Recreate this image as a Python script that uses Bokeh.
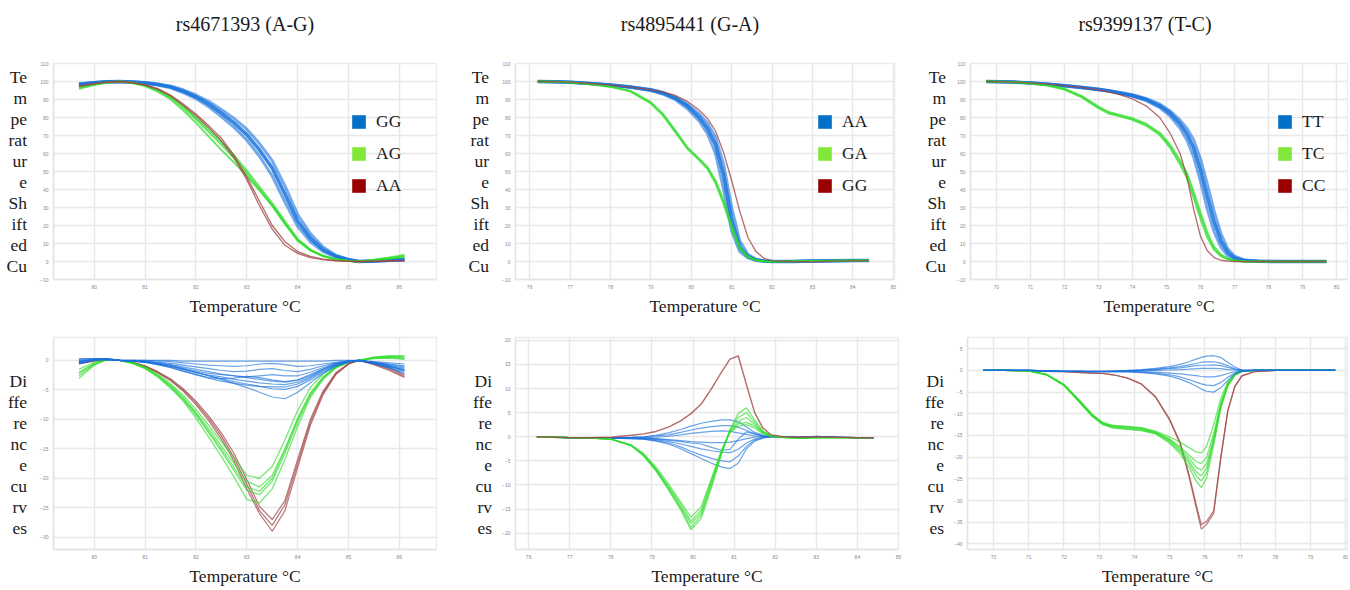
from bokeh.plotting import figure
from bokeh.layouts import column, row
from bokeh.models import Range1d, SingleIntervalTicker, Legend, LegendItem, Div
from bokeh.embed import file_html
from bokeh.resources import INLINE

# ---------------- data ----------------
TITLES = ["rs4671393 (A-G)", "rs4895441 (G-A)", "rs9399137 (T-C)"]
LEGEND_LABELS = [["GG", "AG", "AA"], ["AA", "GA", "GG"], ["TT", "TC", "CC"]]
XLABEL = "Temperature °C"
YLABEL_TOP = ["Te", "m", "pe", "rat", "ur", "e", "Sh", "ift", "ed", "Cu"]
YLABEL_BOT = ["", "Di", "ffe", "re", "nc", "e", "cu", "rv", "es"]

# panel 1 / 4 temperatures
T1 = [79.7, 80.0, 80.25, 80.5, 80.75, 81.0, 81.25, 81.5, 81.75, 82.0, 82.25, 82.5, 82.75,
      83.0, 83.25, 83.5, 83.75, 84.0, 84.25, 84.5, 84.75, 85.0, 85.2, 85.5, 85.8, 86.1]
GG_a = [98.5, 99.3, 99.8, 100, 99.7, 99.2, 98.3, 97.0, 94.6, 91.5, 87.5, 82.5, 77.0, 70.5, 62.0, 52.0, 37.5, 22.5, 13.0, 6.5, 3.0, 1.0, 0, 0.3, 0.7, 1.0]
GG_b = [98.2, 99.2, 99.8, 100, 99.6, 99.0, 98.0, 96.5, 93.8, 90.5, 86.0, 80.5, 74.5, 67.5, 58.5, 47.5, 33.0, 19.5, 11.0, 5.5, 2.5, 0.8, 0, 0.2, 0.5, 0.8]
GG_c = [98.8, 99.4, 99.9, 100, 99.8, 99.4, 98.6, 97.5, 95.4, 92.5, 89.0, 84.5, 79.5, 73.5, 65.5, 56.0, 42.0, 26.0, 15.5, 8.0, 3.5, 1.2, 0, 0.3, 0.8, 1.4]
AG_a = [96.5, 98.3, 99.5, 100, 99.3, 97.8, 95.0, 91.0, 85.5, 79.0, 72.0, 65.0, 57.5, 49.0, 40.0, 31.0, 21.0, 11.5, 6.0, 3.0, 1.2, 0.4, 0, 0.8, 1.8, 3.0]
AG_b = [96.0, 98.0, 99.4, 100, 99.2, 97.5, 94.4, 90.2, 84.0, 77.0, 69.5, 62.0, 55.0, 47.5, 39.5, 31.0, 21.0, 12.0, 6.5, 3.2, 1.3, 0.4, 0, 1.0, 2.2, 3.6]
AG_c = [97.0, 98.5, 99.6, 100, 99.4, 98.0, 95.5, 91.8, 86.5, 80.0, 73.5, 66.5, 59.0, 50.5, 41.5, 32.5, 22.5, 12.5, 6.5, 3.0, 1.1, 0.3, 0, 0.6, 1.5, 2.5]
AA_a = [97.5, 98.8, 99.7, 100, 99.4, 98.2, 96.0, 92.5, 87.5, 82.0, 75.5, 68.5, 59.0, 47.0, 33.5, 20.0, 11.0, 5.5, 2.8, 1.3, 0.5, 0.1, 0, 0.2, 0.4, 0.5]
AA_b = [97.3, 98.7, 99.6, 100, 99.3, 98.0, 95.6, 92.0, 86.8, 81.0, 74.5, 67.0, 57.5, 45.5, 31.0, 18.0, 9.0, 4.5, 2.2, 1.0, 0.4, 0.1, 0, 0.1, 0.3, 0.4]

# panel 2 temperatures
T2 = [76.2, 76.6, 77.0, 77.5, 78.0, 78.5, 79.0, 79.3, 79.6, 79.9, 80.2, 80.4, 80.6, 80.8,
      81.0, 81.2, 81.4, 81.6, 81.8, 82.0, 82.5, 83.0, 83.5, 84.0, 84.4]
AA2_a = [100, 99.9, 99.6, 98.9, 98.0, 96.9, 95.3, 93.5, 90.8, 86.5, 80.0, 74.0, 65.0, 48.0, 23.0, 8.0, 2.8, 0.9, 0.3, 0, 0, 0.3, 0.4, 0.5, 0.5]
AA2_b = [100, 99.9, 99.6, 98.9, 98.0, 96.8, 95.0, 93.0, 90.0, 85.0, 78.0, 71.0, 60.0, 40.0, 17.0, 5.5, 2.0, 0.6, 0.2, 0, 0, 0.3, 0.4, 0.5, 0.5]
AA2_c = [100, 99.9, 99.6, 98.9, 98.1, 97.0, 95.6, 94.0, 91.5, 87.5, 82.0, 77.0, 69.0, 54.0, 30.0, 11.5, 4.0, 1.2, 0.4, 0.1, 0, 0.3, 0.4, 0.5, 0.5]
GA2_a = [100, 99.9, 99.6, 98.6, 97.2, 94.8, 88.5, 82.0, 73.0, 63.5, 57.0, 52.5, 45.0, 34.0, 20.0, 8.0, 2.8, 0.8, 0.2, 0, 0.1, 0.3, 0.4, 0.5, 0.5]
GA2_b = [100, 99.9, 99.5, 98.5, 97.0, 94.4, 87.8, 81.2, 72.0, 62.8, 56.2, 51.5, 43.5, 32.0, 18.5, 7.2, 2.5, 0.7, 0.2, 0, 0.1, 0.3, 0.4, 0.5, 0.5]
GG2 = [100, 99.9, 99.6, 98.9, 98.0, 96.9, 95.4, 94.2, 92.3, 89.0, 84.0, 79.5, 72.5, 60.5, 45.0, 28.0, 13.5, 5.5, 1.8, 0.3, 0, -0.2, 0.2, 0.4, 0.5]

# panel 3 temperatures
T3 = [69.7, 70.5, 71.0, 71.5, 72.0, 72.5, 73.0, 73.3, 73.6, 74.0, 74.4, 74.8, 75.1, 75.4,
      75.6, 75.8, 76.0, 76.2, 76.4, 76.6, 76.8, 77.0, 77.3, 77.7, 78.5, 79.7]
TT_a = [100, 99.7, 99.2, 98.5, 97.7, 96.7, 95.6, 94.8, 93.8, 92.2, 90.0, 86.5, 82.5, 76.5, 71.0, 63.0, 51.0, 36.0, 22.0, 11.5, 5.0, 2.0, 0.5, 0.1, 0, 0]
TT_b = [100, 99.7, 99.2, 98.5, 97.6, 96.6, 95.4, 94.6, 93.5, 91.8, 89.4, 85.5, 81.0, 74.0, 67.5, 58.0, 44.5, 29.0, 16.5, 8.0, 3.2, 1.2, 0.3, 0.1, 0, 0]
TT_c = [100, 99.7, 99.3, 98.6, 97.8, 96.8, 95.8, 95.0, 94.0, 92.6, 90.6, 87.5, 83.8, 78.5, 74.0, 67.5, 57.0, 43.0, 28.0, 15.5, 7.0, 3.0, 0.8, 0.2, 0, 0]
TC_a = [100, 99.7, 99.1, 98.0, 96.0, 92.0, 86.0, 83.0, 81.5, 79.5, 76.5, 71.5, 65.0, 56.0, 49.0, 38.5, 27.0, 16.0, 8.0, 3.8, 1.6, 0.5, 0.1, 0, 0, 0]
TC_b = [100, 99.7, 99.0, 97.8, 95.6, 91.4, 85.2, 82.3, 80.8, 78.8, 75.6, 70.4, 63.5, 54.0, 46.5, 35.5, 24.0, 13.5, 6.5, 3.0, 1.2, 0.4, 0.1, 0, 0, 0]
CC = [100, 99.7, 99.2, 98.5, 97.7, 96.7, 95.3, 94.3, 92.8, 90.3, 86.5, 80.0, 71.5, 60.0, 47.0, 29.0, 14.0, 6.0, 2.2, 0.7, 0.2, 0, 0, 0, 0, 0]

# panel 4 difference curves (on T1)
dGG_1 = [-0.3, 0.1, 0.2, 0, -0.1, -0.3, -0.6, -1.0, -1.5, -2.0, -2.6, -3.2, -3.9, -4.6, -5.4, -6.2, -6.5, -5.4, -3.8, -2.2, -1.0, -0.3, 0, -0.5, -1.0, -1.5]
dGG_2 = [-0.6, 0.0, 0.2, 0, -0.1, -0.2, -0.5, -0.9, -1.4, -2.0, -2.6, -3.1, -3.6, -4.0, -4.4, -4.8, -4.9, -4.4, -3.3, -2.0, -0.9, -0.3, 0, -0.6, -1.3, -2.0]
dGG_3 = [-0.2, 0.2, 0.3, 0, -0.1, -0.3, -0.6, -1.0, -1.5, -2.1, -2.5, -2.8, -3.2, -3.5, -3.8, -4.0, -4.1, -3.7, -2.8, -1.6, -0.7, -0.2, 0, -0.4, -1.2, -2.3]
dGG_4 = [0.2, 0.3, 0.3, 0, -0.1, -0.2, -0.4, -0.7, -1.1, -1.5, -1.9, -2.3, -2.6, -2.8, -2.6, -2.4, -2.6, -2.6, -2.0, -1.2, -0.5, -0.1, 0, -0.3, -0.7, -1.1]
dGG_5 = [-0.4, 0.1, 0.2, 0, 0, -0.1, -0.3, -0.5, -0.8, -1.1, -1.4, -1.7, -1.9, -1.8, -1.5, -1.4, -1.7, -1.9, -1.5, -0.9, -0.4, -0.1, 0, -0.3, -0.6, -0.9]
dGG_6 = [0.0, 0.2, 0.2, 0, 0, 0, -0.1, -0.2, -0.4, -0.6, -0.8, -0.9, -1.0, -0.9, -0.6, -0.5, -0.7, -1.0, -0.9, -0.6, -0.3, -0.1, 0, -0.2, -0.4, -0.6]
dGG_7 = [0.3, 0.3, 0.2, 0, 0, 0, 0, 0, -0.1, -0.1, -0.1, -0.1, -0.1, -0.1, -0.1, -0.1, -0.1, -0.1, -0.1, -0.1, 0, 0, 0, -0.3, -0.8, -1.3]
dGG_8 = [-0.1, 0.2, 0.3, 0, -0.1, -0.3, -0.7, -1.2, -1.8, -2.4, -2.9, -3.1, -3.0, -2.7, -2.9, -3.3, -3.6, -3.3, -2.4, -1.4, -0.6, -0.2, 0, -0.5, -1.1, -1.8]
dGG_9 = [-0.5, 0.1, 0.2, 0, -0.1, -0.3, -0.7, -1.2, -1.8, -2.4, -3.0, -3.5, -3.9, -4.2, -4.4, -4.5, -4.5, -4.0, -3.0, -1.8, -0.8, -0.2, 0, -0.4, -1.0, -1.6]
dGG_10 = [-0.2, 0.2, 0.2, 0, -0.1, -0.2, -0.4, -0.8, -1.3, -1.8, -2.2, -2.4, -2.6, -2.9, -3.2, -3.5, -3.7, -3.4, -2.6, -1.5, -0.6, -0.2, 0, -0.3, -0.9, -1.7]
dAG_1 = [-1.5, -0.3, 0.2, 0, -0.4, -1.1, -2.3, -3.9, -5.9, -8.3, -11.0, -13.8, -16.5, -19.5, -20.0, -18.0, -13.5, -8.5, -4.6, -2.3, -0.9, -0.2, 0, 0.3, 0.4, 0.2]
dAG_2 = [-2.0, -0.5, 0.2, 0, -0.4, -1.2, -2.5, -4.2, -6.3, -8.8, -11.6, -14.5, -17.5, -20.5, -21.5, -19.5, -15.0, -9.8, -5.5, -2.8, -1.1, -0.3, 0, 0.4, 0.5, 0.3]
dAG_3 = [-2.6, -0.7, 0.2, 0, -0.5, -1.3, -2.7, -4.5, -6.7, -9.3, -12.3, -15.4, -18.7, -22.0, -22.8, -20.5, -15.8, -10.5, -6.0, -3.0, -1.2, -0.3, 0, 0.5, 0.7, 0.6]
dAG_4 = [-3.0, -0.8, 0.2, 0, -0.5, -1.4, -2.8, -4.7, -6.9, -9.8, -13.0, -16.3, -19.8, -23.6, -24.2, -21.8, -16.8, -11.2, -6.3, -3.2, -1.3, -0.3, 0, 0.6, 0.8, 0.8]
dAG_5 = [-2.2, -0.6, 0.2, 0, -0.4, -1.2, -2.6, -4.3, -6.5, -9.0, -12.0, -15.0, -18.2, -21.5, -22.2, -20.0, -15.3, -10.0, -5.7, -2.9, -1.1, -0.3, 0, 0.4, 0.6, 0.5]
dAA_1 = [-0.5, 0.0, 0.2, 0, -0.3, -1.0, -2.0, -3.3, -5.0, -7.2, -9.8, -12.8, -16.5, -21.0, -25.5, -28.0, -24.5, -17.5, -10.5, -5.5, -2.3, -0.6, 0, -0.6, -1.5, -2.7]
dAA_2 = [-0.4, 0.0, 0.2, 0, -0.3, -0.9, -1.9, -3.1, -4.8, -6.9, -9.4, -12.3, -15.8, -20.2, -24.8, -27.0, -23.8, -16.8, -10.0, -5.2, -2.1, -0.5, 0, -0.5, -1.3, -2.4]
dAA_3 = [-0.6, -0.1, 0.2, 0, -0.3, -1.0, -2.1, -3.4, -5.2, -7.5, -10.2, -13.3, -17.1, -21.8, -26.0, -29.0, -25.5, -18.2, -11.0, -5.8, -2.4, -0.6, 0, -0.7, -1.7, -2.9]

# panel 5 difference curves
T5 = [76.2, 76.6, 77.0, 77.5, 78.0, 78.5, 78.8, 79.1, 79.4, 79.7, 79.95, 80.2, 80.45, 80.7,
      80.9, 81.1, 81.3, 81.5, 81.7, 81.9, 82.2, 82.6, 83.0, 83.5, 84.0, 84.4]
dGG5 = [0, -0.1, -0.2, -0.2, -0.1, 0.3, 0.6, 1.1, 2.0, 3.3, 4.8, 6.8, 10.0, 13.5, 16.1, 16.8, 10.8, 5.0, 1.8, 0.4, 0, -0.1, 0, -0.1, -0.2, -0.2]
dGA_1 = [0, -0.1, -0.2, -0.3, -0.5, -1.8, -3.8, -6.8, -10.5, -14.5, -18.0, -15.8, -9.5, -3.0, 1.2, 3.2, 4.0, 2.6, 0.9, 0.2, -0.1, -0.3, -0.2, -0.2, -0.2, -0.2]
dGA_2 = [0, -0.1, -0.2, -0.3, -0.5, -1.9, -4.0, -7.1, -11.0, -15.2, -19.3, -17.0, -10.5, -3.5, 1.5, 4.8, 6.0, 3.5, 1.2, 0.3, -0.1, -0.3, -0.2, -0.2, -0.2, -0.2]
dGA_3 = [0, -0.1, -0.2, -0.3, -0.5, -1.7, -3.5, -6.3, -9.8, -13.5, -16.7, -14.5, -8.6, -2.6, 0.9, 2.2, 2.5, 1.8, 0.6, 0.1, -0.1, -0.3, -0.2, -0.2, -0.2, -0.2]
dGA_4 = [0, -0.1, -0.2, -0.3, -0.5, -1.8, -3.9, -7.0, -10.8, -14.8, -18.8, -16.3, -10.0, -3.3, 1.4, 4.0, 5.0, 3.0, 1.0, 0.2, -0.1, -0.3, -0.2, -0.2, -0.2, -0.2]
dGA_5 = [0, -0.1, -0.2, -0.3, -0.5, -1.8, -3.7, -6.6, -10.2, -14.0, -17.5, -15.2, -9.0, -2.8, 1.0, 2.7, 3.0, 2.2, 0.8, 0.2, -0.1, -0.3, -0.2, -0.2, -0.2, -0.2]
dAA5_1 = [0, -0.1, -0.2, -0.2, -0.2, -0.1, 0, 0.3, 0.8, 1.5, 2.2, 2.8, 3.2, 3.5, 3.5, 3.1, 2.0, 0.9, 0.3, 0.1, 0, -0.1, 0.1, -0.1, -0.2, -0.2]
dAA5_2 = [0, -0.1, -0.2, -0.2, -0.2, -0.1, 0, 0.2, 0.4, 0.9, 1.4, 1.8, 2.1, 2.3, 2.3, 2.0, 1.3, 0.6, 0.2, 0, 0, -0.1, 0.1, -0.1, -0.2, -0.2]
dAA5_3 = [0, -0.1, -0.2, -0.2, -0.3, -0.3, -0.3, -0.4, -0.6, -0.8, -1.0, -1.1, -1.2, -1.2, -1.1, -0.8, -0.4, -0.1, 0, 0, 0, -0.1, 0, -0.1, -0.2, -0.2]
dAA5_4 = [0, -0.1, -0.2, -0.2, -0.3, -0.3, -0.4, -0.6, -1.0, -1.5, -2.0, -2.5, -2.9, -3.2, -3.3, -2.6, -1.3, -0.5, -0.1, 0, 0, -0.1, 0, -0.1, -0.2, -0.2]
dAA5_5 = [0, -0.1, -0.2, -0.2, -0.3, -0.4, -0.5, -0.8, -1.3, -2.1, -3.0, -3.8, -4.5, -5.0, -5.2, -4.0, -2.0, -0.7, -0.2, 0, 0, -0.1, 0, -0.1, -0.2, -0.2]
dAA5_6 = [0, -0.1, -0.2, -0.2, -0.3, -0.4, -0.5, -0.9, -1.5, -2.5, -3.5, -4.5, -5.5, -6.3, -6.6, -5.5, -2.5, -0.9, -0.3, 0, 0, -0.1, 0, -0.1, -0.2, -0.2]
dAA5_7 = [0, -0.1, -0.2, -0.2, -0.3, -0.3, -0.3, -0.5, -0.7, -1.0, -1.3, -1.5, -2.2, -2.8, -2.6, -0.5, 1.0, 0.6, 0.2, 0, 0, -0.1, 0, -0.1, -0.2, -0.2]
dAA5_8 = [0, -0.1, -0.2, -0.2, -0.2, -0.2, -0.2, -0.1, 0.1, 0.4, 0.7, 0.9, 1.1, 1.2, 1.1, 0.8, 0.5, 0.2, 0, 0, 0, -0.1, 0, -0.1, -0.2, -0.2]

# panel 6 difference curves
T6 = [69.7, 70.3, 71.0, 71.5, 72.0, 72.5, 72.8, 73.1, 73.4, 73.8, 74.2, 74.6, 75.0, 75.3,
      75.55, 75.75, 75.9, 76.05, 76.25, 76.45, 76.65, 76.85, 77.05, 77.4, 78.0, 79.0, 79.7]
dCC_1 = [0, 0, -0.1, -0.2, -0.3, -0.5, -0.6, -0.7, -1.0, -1.8, -3.2, -6.2, -11.5, -17.0, -24.5, -31.5, -36.6, -35.5, -33.0, -20.5, -9.5, -3.8, -1.3, -0.3, 0, 0.1, 0]
dCC_2 = [0, 0, -0.1, -0.2, -0.3, -0.5, -0.6, -0.7, -1.0, -1.7, -3.1, -6.0, -11.2, -16.6, -24.0, -30.8, -35.6, -34.8, -32.4, -20.0, -9.2, -3.6, -1.2, -0.3, 0, 0.1, 0]
dTC_1 = [0, 0, -0.1, -0.9, -3.3, -7.6, -10.3, -12.2, -12.9, -13.1, -13.4, -14.3, -16.0, -18.0, -20.2, -22.3, -23.0, -21.5, -15.5, -8.0, -3.2, -1.0, -0.2, 0, 0, 0, 0]
dTC_2 = [0, 0, -0.1, -0.9, -3.2, -7.4, -10.1, -12.0, -12.7, -12.9, -13.2, -14.0, -15.3, -16.6, -17.8, -18.8, -19.0, -17.5, -12.5, -6.5, -2.6, -0.8, -0.2, 0, 0, 0, 0]
dTC_3 = [0, 0, -0.1, -1.0, -3.4, -7.8, -10.5, -12.4, -13.2, -13.5, -13.8, -14.5, -16.5, -18.8, -21.5, -24.3, -25.5, -23.5, -16.5, -8.5, -3.5, -1.1, -0.2, 0, 0, 0, 0]
dTC_4 = [0, 0, -0.1, -1.0, -3.5, -7.9, -10.6, -12.5, -13.3, -13.6, -13.9, -14.6, -16.8, -19.3, -22.3, -25.5, -27.0, -24.8, -17.2, -8.8, -3.6, -1.1, -0.2, 0, 0, 0, 0]
dTC_5 = [0, 0, -0.1, -0.9, -3.3, -7.5, -10.2, -12.1, -12.8, -13.0, -13.3, -14.2, -15.8, -17.6, -19.5, -21.0, -21.5, -20.0, -14.5, -7.5, -3.0, -0.9, -0.2, 0, 0, 0, 0]
dTC_6 = [0, 0, -0.1, -1.0, -3.4, -7.7, -10.4, -12.3, -13.0, -13.3, -13.6, -14.4, -16.2, -18.4, -20.9, -23.4, -24.3, -22.5, -16.0, -8.2, -3.3, -1.0, -0.2, 0, 0, 0, 0]
dTT_1 = [0, 0, 0, -0.1, -0.2, -0.2, -0.2, -0.2, -0.1, 0, 0.2, 0.5, 0.9, 1.4, 2.0, 2.6, 3.0, 3.3, 3.4, 3.0, 1.9, 0.8, 0.1, 0, 0, 0, 0]
dTT_2 = [0, 0, 0, -0.1, -0.2, -0.2, -0.2, -0.2, -0.2, -0.1, 0.1, 0.3, 0.6, 0.9, 1.3, 1.6, 1.9, 2.0, 2.0, 1.7, 1.1, 0.4, 0, 0, 0, 0, 0]
dTT_3 = [0, 0, 0, -0.1, -0.2, -0.2, -0.3, -0.3, -0.2, -0.2, -0.1, 0, 0.1, 0.2, 0.3, 0.4, 0.5, 0.5, 0.5, 0.4, 0.2, 0.1, 0, 0, 0, 0, 0]
dTT_4 = [0, 0, 0, -0.1, -0.2, -0.2, -0.3, -0.3, -0.3, -0.3, -0.3, -0.4, -0.6, -0.8, -1.0, -1.2, -1.4, -1.5, -1.5, -1.2, -0.7, -0.3, -0.1, 0, 0, 0, 0]
dTT_5 = [0, 0, 0, -0.1, -0.2, -0.2, -0.3, -0.3, -0.3, -0.3, -0.4, -0.6, -1.0, -1.5, -2.1, -2.7, -3.1, -3.4, -3.5, -2.8, -1.6, -0.6, -0.1, 0, 0, 0, 0]
dTT_6 = [0, 0, 0, -0.1, -0.2, -0.3, -0.3, -0.3, -0.3, -0.3, -0.5, -0.8, -1.3, -2.0, -2.8, -3.6, -4.3, -4.8, -5.0, -4.0, -2.3, -0.8, -0.2, 0, 0, 0, 0]
dTT_7 = [0, 0, 0, -0.1, -0.2, -0.2, -0.2, -0.2, -0.2, -0.1, 0, 0.2, 0.4, 0.6, 0.9, 1.1, 1.2, 1.2, 1.3, 1.1, 0.7, 0.3, 0, 0, 0, 0, 0]

# ---------------- styling ----------------
SERIF = "Liberation Serif"
INK = "#1a1a1a"
BLUE, GREEN, RED = "#1872dc", "#2edc2a", "#a04646"
LEG_COLORS = ["#0070c8", "#7fe83a", "#990000"]


def title_div(text, w, pad_left):
    return Div(text=text, width=w, height=44, margin=0,
               styles={"font-family": "'Liberation Serif', serif", "font-size": "20px",
                       "color": INK, "text-align": "center", "line-height": "20px",
                       "padding-top": "14px", "padding-left": f"{pad_left}px",
                       "box-sizing": "border-box", "overflow": "hidden"})


def make_fig(w, h, bl, br, bt, bb, xr, yr, yint, ylabel, ystand):
    p = figure(width=w, height=h, output_backend="svg", toolbar_location=None,
               x_range=Range1d(*xr), y_range=Range1d(*yr),
               min_border_left=bl, min_border_right=br, min_border_top=bt, min_border_bottom=bb)
    p.xaxis.ticker = SingleIntervalTicker(interval=1)
    p.yaxis.ticker = SingleIntervalTicker(interval=yint)
    for ax in (p.xaxis[0], p.yaxis[0]):
        ax.major_tick_line_color = None
        ax.minor_tick_line_color = None
        ax.major_tick_out = 0
        ax.major_tick_in = 0
        ax.minor_tick_out = 0
        ax.minor_tick_in = 0
        ax.axis_line_color = "#e4e4e4"
        ax.axis_line_width = 1.5
        ax.major_label_text_font_size = "5px"
        ax.major_label_text_color = "#8a8a8a"
        ax.major_label_standoff = 5
        ax.axis_label_text_font = SERIF
        ax.axis_label_text_font_size = "17.5px"
        ax.axis_label_text_font_style = "normal"
        ax.axis_label_text_color = INK
    p.xaxis.axis_label = XLABEL
    p.xaxis.axis_label_standoff = 4
    p.yaxis.axis_label = "\n".join(ylabel)
    p.yaxis.axis_label_orientation = "horizontal"
    p.yaxis.axis_label_standoff = ystand
    p.yaxis.axis_label_text_line_height = 1.05
    p.grid.grid_line_color = "#e8e8e8"
    p.grid.grid_line_width = 1.5
    p.outline_line_color = "#ececec"
    p.outline_line_width = 1.5
    return p


def add_legend(p, labels, xs, ys_list, vx, vy):
    items = []
    for lab, c, ys in zip(labels, LEG_COLORS, ys_list):
        r = p.quad(left=[xs[0]], right=[xs[0]], top=[ys[0]], bottom=[ys[0]],
                   fill_color=c, line_color=None)
        items.append(LegendItem(label=lab, renderers=[r]))
    lg = Legend(items=items, location=(vx, vy), glyph_width=17, glyph_height=17,
                label_height=20, spacing=11, padding=0, margin=0, label_standoff=9,
                label_text_font=SERIF, label_text_font_size="17.5px",
                label_text_color=INK, border_line_color=None,
                background_fill_alpha=0)
    p.add_layout(lg)


# ---------------- top row ----------------
p1 = make_fig(460, 274, 53, 24, 19, 35, (79.2, 86.73), (-10, 110), 10, YLABEL_TOP, 10)
for ys in (GG_b, GG_c):
    p1.line(T1, ys, color=BLUE, line_width=3, alpha=0.6)
p1.line(T1, GG_a, color=BLUE, line_width=3.5, alpha=0.85)
for ys in (AG_b, AG_c, AG_a):
    p1.line(T1, ys, color=GREEN, line_width=2, alpha=0.7)
for ys in (AA_a, AA_b):
    p1.line(T1, ys, color=RED, line_width=1.3, alpha=0.8)
add_legend(p1, LEGEND_LABELS[0], T1, (GG_a, AG_a, AA_a), 297, 83)

p2 = make_fig(452, 274, 55, 18, 19, 35, (75.65, 85.03), (-10, 110), 10, YLABEL_TOP, 10)
for ys in (AA2_b, AA2_c):
    p2.line(T2, ys, color=BLUE, line_width=3, alpha=0.6)
p2.line(T2, AA2_a, color=BLUE, line_width=3.5, alpha=0.85)
for ys in (GA2_a, GA2_b):
    p2.line(T2, ys, color=GREEN, line_width=2, alpha=0.75)
p2.line(T2, GG2, color=RED, line_width=1.3, alpha=0.8)
add_legend(p2, LEGEND_LABELS[1], T2, (AA2_a, GA2_a, GG2), 301, 83)

p3 = make_fig(436, 274, 58, 1, 19, 35, (69.24, 80.32), (-10, 110), 10, YLABEL_TOP, 8)
for ys in (TT_b, TT_c):
    p3.line(T3, ys, color=BLUE, line_width=3, alpha=0.6)
p3.line(T3, TT_a, color=BLUE, line_width=3.5, alpha=0.85)
for ys in (TC_a, TC_b):
    p3.line(T3, ys, color=GREEN, line_width=2.2, alpha=0.75)
p3.line(T3, CC, color=RED, line_width=1.3, alpha=0.8)
add_legend(p3, LEGEND_LABELS[2], T3, (TT_a, TC_a, CC), 306, 83)

# ---------------- bottom row ----------------
p4 = make_fig(460, 270, 53, 24, 19, 35, (79.2, 86.73), (-32.1, 3.9), 5, YLABEL_BOT, 10)
for ys in (dAA_1, dAA_2, dAA_3):
    p4.line(T1, ys, color=RED, line_width=1.2, alpha=0.75)
for ys in (dAG_1, dAG_2, dAG_3, dAG_4, dAG_5):
    p4.line(T1, ys, color=GREEN, line_width=1.3, alpha=0.65)
for ys in (dGG_1, dGG_2, dGG_3, dGG_4, dGG_5, dGG_6, dGG_7, dGG_8, dGG_9, dGG_10):
    p4.line(T1, ys, color=BLUE, line_width=1.2, alpha=0.65)

p5 = make_fig(452, 270, 55, 14, 19, 35, (75.68, 85.0), (-23.4, 20.6), 5, YLABEL_BOT, 7)
for ys in (dAA5_1, dAA5_2, dAA5_3, dAA5_4, dAA5_5, dAA5_6, dAA5_7, dAA5_8):
    p5.line(T5, ys, color=BLUE, line_width=1.2, alpha=0.65)
for ys in (dGA_1, dGA_2, dGA_3, dGA_4, dGA_5):
    p5.line(T5, ys, color=GREEN, line_width=1.3, alpha=0.65)
p5.line(T5, dGG5, color=RED, line_width=1.4, alpha=0.8)

p6 = make_fig(436, 270, 55, 1, 19, 35, (69.26, 80.05), (-41.3, 7.6), 5, YLABEL_BOT, 7)
for ys in (dCC_1, dCC_2):
    p6.line(T6, ys, color=RED, line_width=1.2, alpha=0.75)
for ys in (dTC_1, dTC_2, dTC_3, dTC_4, dTC_5, dTC_6):
    p6.line(T6, ys, color=GREEN, line_width=1.3, alpha=0.65)
for ys in (dTT_1, dTT_2, dTT_3, dTT_4, dTT_5, dTT_6, dTT_7):
    p6.line(T6, ys, color=BLUE, line_width=1.2, alpha=0.65)

titles_row = row(title_div(TITLES[0], 460, 30), title_div(TITLES[1], 452, 8),
                 title_div(TITLES[2], 436, 30))
layout = column(titles_row, row(p1, p2, p3), row(p4, p5, p6))
open("out.html", "w").write(file_html(layout, INLINE))
